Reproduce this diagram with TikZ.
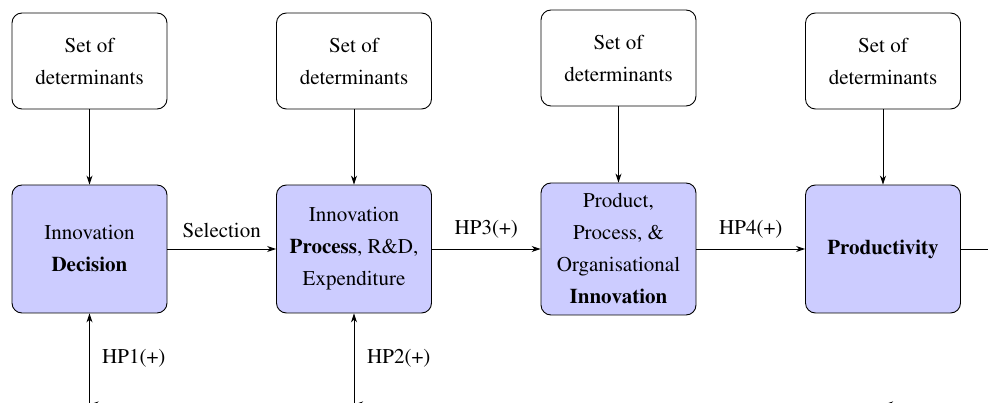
\documentclass[tikz,border=0pt]{standalone}
\usepackage[T1]{fontenc}
\usepackage{mathptmx}
\usetikzlibrary{arrows.meta}
\begin{document}
\begin{tikzpicture}[x=1pt,y=-1pt,
  every node/.style={font=\rmfamily\fontsize{21}{32}\selectfont},
  detbox/.style={draw, rounded corners=10pt, line width=0.9pt,
    minimum width=155pt, minimum height=96pt, align=center, inner sep=0pt},
  stagebox/.style={detbox, fill=blue!20, minimum height=128pt},
  link/.style={line width=0.9pt, -{Stealth[length=9pt,width=6pt]}},
  plain/.style={line width=0.9pt}
]
\useasboundingbox (0,0) rectangle (988,403);
\clip (0,0) rectangle (988,403);

% determinant boxes
\node[detbox] (d1) at (89.5,61)  {Set of\\determinants};
\node[detbox] (d2) at (354,61)   {Set of\\determinants};
\node[detbox] (d3) at (618.5,58) {Set of\\determinants};
\node[detbox] (d4) at (883,61)   {Set of\\determinants};

% stages of the chain
\node[stagebox] (s1) at (89.5,249) {Innovation\\\textbf{Decision}};
\node[stagebox] (s2) at (354,249)  {Innovation\\\textbf{Process}, R\&D,\\Expenditure};
\node[stagebox, minimum height=132pt] (s3) at (618.5,249)
  {Product,\\Process, \&\\Organisational\\\textbf{Innovation}};
\node[stagebox] (s4) at (883,249)  {\textbf{Productivity}};

% determinants feed each stage
\draw[link] (d1) -- (s1);
\draw[link] (d2) -- (s2);
\draw[link] (d3) -- (s3);
\draw[link] (d4) -- (s4);

% main chain
\draw[link] (s1) -- node[midway, anchor=base, yshift=11pt] {Selection} (s2);
\draw[link] (s2) -- node[midway, anchor=base, yshift=14pt] {HP3(+)} (s3);
\draw[link] (s3) -- node[midway, anchor=base, yshift=14pt] {HP4(+)} (s4);
\coordinate (out) at (995,249);
\draw[plain] (s4) -- (out);

% feedback arrows from below
\coordinate (b1) at (89.5,420);
\coordinate (b2) at (354,420);
\draw[link] (b1) -- (s1);
\draw[link] (b2) -- (s2);
\node[anchor=west, inner sep=0pt] (h1) at (102,358) {HP1(+)};
\node[anchor=west, inner sep=0pt] (h2) at (367,358) {HP2(+)};

% return lines running along the lower edge
\coordinate (r1a) at (110,404.5); \coordinate (r1b) at (89.5,404.5);
\coordinate (r2a) at (375,404.5); \coordinate (r2b) at (354,404.5);
\coordinate (r4a) at (905,404.5); \coordinate (r4b) at (884,404.5);
\draw[link] (r1a) -- (r1b);
\draw[link] (r2a) -- (r2b);
\draw[link] (r4a) -- (r4b);
\end{tikzpicture}
\end{document}
